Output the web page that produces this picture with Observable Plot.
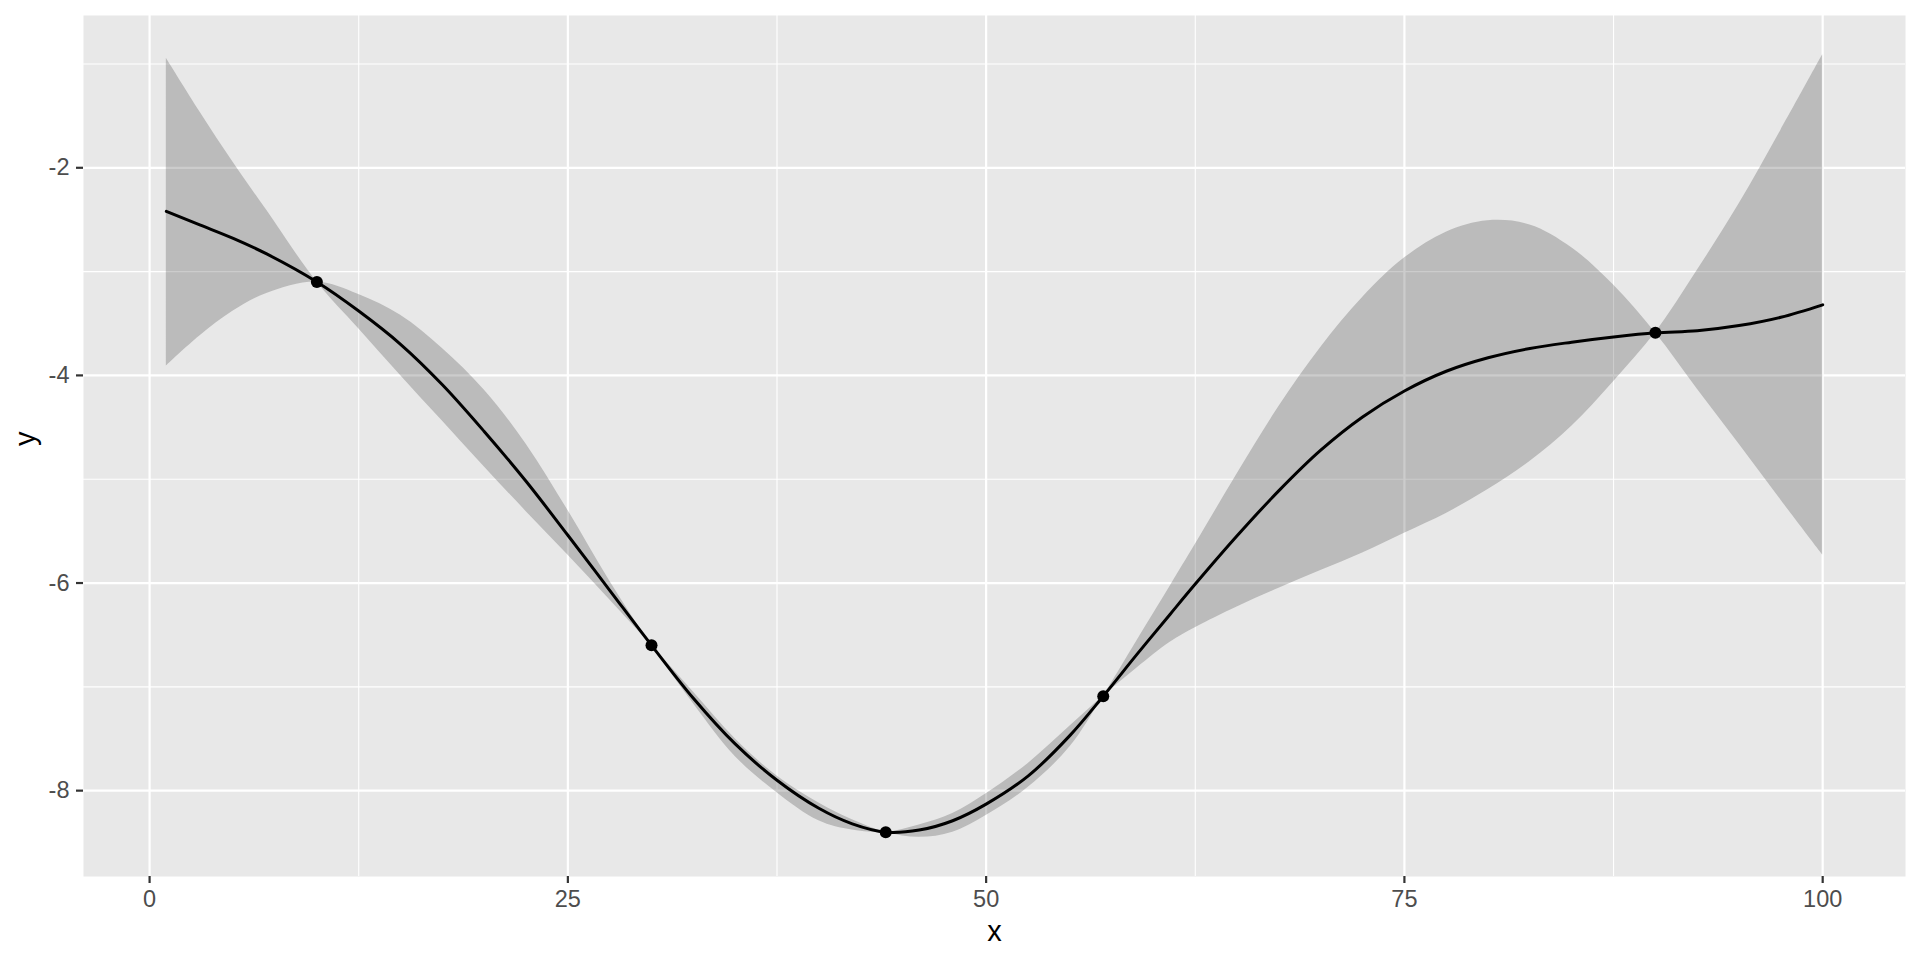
<!DOCTYPE html>
<html>
<head>
<meta charset="utf-8">
<script src="https://cdn.jsdelivr.net/npm/d3@7"></script>
<script src="https://cdn.jsdelivr.net/npm/@observablehq/plot@0.6"></script>
<style>
  html, body { margin: 0; padding: 0; background: #ffffff; }
  #chart { width: 1920px; height: 960px; }
</style>
</head>
<body>
<div id="chart"></div>
<script>
// ---- data ----
const xs      = [1, 3, 5, 7, 10, 12.5, 15, 17.5, 20, 22.5, 25, 27.5, 30, 32.5, 35, 37.5, 40, 42, 44, 46, 48, 50, 52.5, 55, 57, 59, 61, 62.5, 65, 67.5, 70, 72.5, 75, 77.5, 80, 82.5, 85, 87.5, 90, 92.5, 95, 97.5, 100];
const fitMean = [-2.42, -2.55, -2.68, -2.83, -3.10, -3.38, -3.70, -4.09, -4.54, -5.02, -5.54, -6.07, -6.60, -7.11, -7.55, -7.90, -8.17, -8.32, -8.40, -8.38, -8.29, -8.13, -7.86, -7.47, -7.09, -6.69, -6.30, -6.01, -5.545, -5.11, -4.72, -4.40, -4.15, -3.96, -3.83, -3.74, -3.68, -3.63, -3.59, -3.57, -3.52, -3.44, -3.32];
// the two edges of the band (they cross at each observed point)
const bandA   = [-0.945, -1.46, -1.95, -2.41, -3.10, -3.55, -4.00, -4.44, -4.88, -5.31, -5.73, -6.16, -6.60, -7.05, -7.50, -7.86, -8.12, -8.28, -8.40, -8.45, -8.40, -8.24, -7.97, -7.58, -7.09, -6.56, -6.03, -5.63, -4.95, -4.30, -3.73, -3.25, -2.87, -2.62, -2.51, -2.55, -2.77, -3.13, -3.59, -4.13, -4.66, -5.20, -5.73];
const bandB   = [-3.91, -3.62, -3.38, -3.21, -3.10, -3.22, -3.42, -3.74, -4.14, -4.66, -5.30, -5.98, -6.60, -7.16, -7.67, -8.02, -8.29, -8.38, -8.40, -8.33, -8.22, -8.03, -7.74, -7.38, -7.09, -6.82, -6.57, -6.43, -6.23, -6.05, -5.88, -5.71, -5.52, -5.33, -5.10, -4.83, -4.49, -4.06, -3.59, -2.99, -2.35, -1.64, -0.91];
const obsX    = [10, 30, 44, 57, 90];
const obsY    = [-3.10, -6.60, -8.40, -7.09, -3.59];
const xTicks  = [0, 25, 50, 75, 100];
const xMinor  = [12.5, 37.5, 62.5, 87.5];
const yTicks  = [-8, -6, -4, -2];
const yMinor  = [-7, -5, -3, -1];
const xTitle  = "x";
const yTitle  = "y";

const fit = xs.map((x, i) => ({x, mean: fitMean[i], a: bandA[i], b: bandB[i]}));
const obs = obsX.map((x, i) => ({x, y: obsY[i]}));

// ggplot-style 5% expansion
const xExt = d3.extent(xs);
const yExt = [d3.min([...bandA, ...bandB, ...fitMean]), d3.max([...bandA, ...bandB, ...fitMean])];
const ex = (e) => { const d = (e[1] - e[0]) * 0.05; return [e[0] - d, e[1] + d]; };

const chart = Plot.plot({
  width: 1920,
  height: 960,
  marginLeft: 83,
  marginRight: 15,
  marginTop: 15,
  marginBottom: 84,
  x: {domain: ex(xExt)},
  y: {domain: ex(yExt)},
  style: {fontFamily: "'Liberation Sans', Arial, sans-serif", background: "#ffffff", overflow: "visible"},
  marks: [
    Plot.frame({fill: "#E8E8E8", stroke: null}),
    Plot.ruleX(xMinor, {stroke: "#ffffff", strokeWidth: 1.1}),
    Plot.ruleY(yMinor, {stroke: "#ffffff", strokeWidth: 1.1}),
    Plot.ruleX(xTicks, {stroke: "#ffffff", strokeWidth: 2.2}),
    Plot.ruleY(yTicks, {stroke: "#ffffff", strokeWidth: 2.2}),
    Plot.areaY(fit, {x: "x", y1: "a", y2: "b", fill: "#333333", fillOpacity: 0.25, curve: "catmull-rom"}),
    Plot.line(fit, {x: "x", y: "mean", stroke: "#000000", strokeWidth: 3, curve: "catmull-rom"}),
    Plot.dot(obs, {x: "x", y: "y", r: 6, fill: "#000000", stroke: null}),
    Plot.axisX(xTicks, {tickSize: 7, tickPadding: 7, fontSize: 23.5, stroke: "#333333", strokeWidth: 2.2, color: "#4D4D4D", label: null}),
    Plot.axisY(yTicks, {tickSize: 7, tickPadding: 7, fontSize: 23.5, stroke: "#333333", strokeWidth: 2.2, color: "#4D4D4D", label: null, tickFormat: d => String(d).replace("−", "-")}),
    Plot.text([xTitle], {frameAnchor: "bottom", dy: 55, fontSize: 29, fill: "#000000", lineAnchor: "middle"}),
    Plot.text([yTitle], {frameAnchor: "left", dx: -58, rotate: -90, fontSize: 29, fill: "#000000", lineAnchor: "middle"})
  ]
});
document.getElementById("chart").appendChild(chart);
</script>
</body>
</html>
